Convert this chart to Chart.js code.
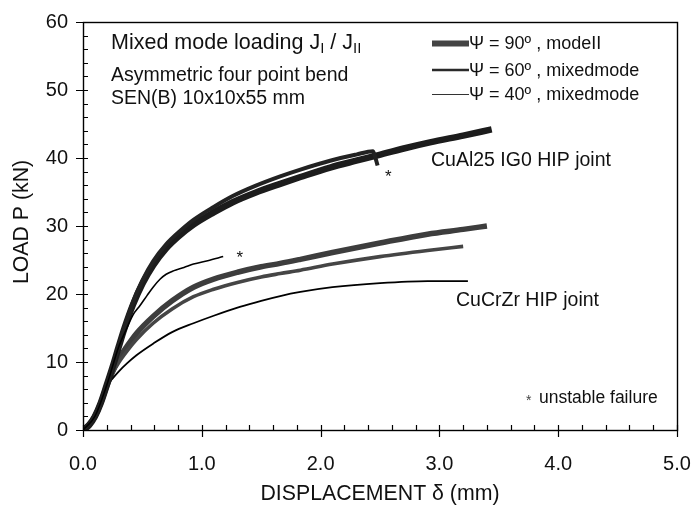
<!DOCTYPE html>
<html>
<head>
<meta charset="utf-8">
<script src="https://cdn.jsdelivr.net/npm/chart.js@4.4.1/dist/chart.umd.min.js"></script>
<style>
    html, body { margin: 0; padding: 0; background: #fff; }
</style>
</head>
<body>
<canvas id="chart" width="695" height="510"></canvas>
<script>
    "use strict";

    // CuAl25 IG0 HIP joint
    const dispAl90 = [0, 0.05, 0.1, 0.15, 0.2, 0.25, 0.3, 0.35, 0.42, 0.5, 0.59, 0.7, 0.8, 0.93, 1.1, 1.26, 1.45, 1.66, 1.83, 2.08, 2.3, 2.46, 2.7, 2.92, 3.2, 3.44];
    const loadAl90 = [0, 0.7, 2.0, 4.0, 6.6, 9.3, 12.2, 15.0, 18.4, 21.5, 24.2, 26.7, 28.4, 30.2, 32.0, 33.5, 34.9, 36.2, 37.2, 38.6, 39.6, 40.3, 41.4, 42.3, 43.3, 44.2];
    const dispAl60 = [0, 0.1, 0.2, 0.3, 0.42, 0.5, 0.59, 0.7, 0.8, 0.93, 1.1, 1.26, 1.45, 1.66, 1.83, 2.08, 2.3, 2.44, 2.46, 2.48];
    const loadAl60 = [0, 2.0, 6.6, 12.3, 18.8, 22.0, 24.8, 27.3, 29.0, 30.9, 32.8, 34.4, 35.9, 37.3, 38.3, 39.6, 40.5, 41.0, 40.1, 38.9];
    const dispAl40 = [0, 0.1, 0.2, 0.3, 0.37, 0.42, 0.48, 0.54, 0.59, 0.65, 0.7, 0.76, 0.85, 0.93, 1.05, 1.18];
    const loadAl40 = [0, 2.0, 6.6, 12.2, 15.0, 16.9, 18.3, 19.8, 21.0, 22.2, 22.9, 23.4, 23.9, 24.4, 24.9, 25.5];

    // CuCrZr HIP joint
    const dispCr90 = [0, 0.05, 0.1, 0.15, 0.2, 0.25, 0.3, 0.37, 0.45, 0.59, 0.75, 0.93, 1.1, 1.3, 1.5, 1.66, 1.83, 2.1, 2.5, 2.9, 3.2, 3.4];
    const loadCr90 = [0, 0.7, 2.0, 4.0, 6.5, 8.6, 10.4, 12.3, 14.2, 16.7, 19.0, 21.0, 22.2, 23.2, 24.0, 24.5, 25.1, 26.1, 27.5, 28.8, 29.5, 30.0];
    const dispCr60 = [0, 0.1, 0.2, 0.25, 0.3, 0.37, 0.45, 0.59, 0.75, 0.93, 1.1, 1.3, 1.5, 1.66, 1.83, 2.1, 2.5, 2.9, 3.2];
    const loadCr60 = [0, 2.0, 6.5, 8.4, 9.9, 11.6, 13.3, 15.7, 17.8, 19.6, 20.7, 21.7, 22.5, 23.0, 23.5, 24.4, 25.5, 26.4, 27.0];
    const dispCr40 = [0, 0.1, 0.2, 0.25, 0.3, 0.37, 0.45, 0.59, 0.75, 0.93, 1.1, 1.32, 1.5, 1.66, 1.83, 2.1, 2.5, 2.9, 3.24];
    const loadCr40 = [0, 2.0, 6.5, 7.6, 8.6, 9.8, 11.0, 12.7, 14.4, 15.7, 16.8, 18.1, 19.0, 19.7, 20.3, 21.0, 21.6, 21.9, 21.9];

    // unstable failure markers (displacement, load)
    const failDisp = [1.32, 2.57];
    const failLoad = [25.8, 37.8];

    const legendLabels = ["\u03A8 = 90\u00BA , modeII", "\u03A8 = 60\u00BA , mixedmode", "\u03A8 = 40\u00BA , mixedmode"];
    const titleLines = ["Asymmetric four point bend", "SEN(B) 10x10x55 mm"];

    const FONT = "'Liberation Sans', Arial, Helvetica, sans-serif";
    const INK = "#111";

    function pts(xs, ys) {
        return xs.map((x, i) => ({ x: x, y: ys[i] }));
    }

    function series(label, xs, ys, color, width) {
        return {
            label: label,
            data: pts(xs, ys),
            borderColor: color,
            borderWidth: width,
            pointRadius: 0,
            fill: false,
            cubicInterpolationMode: "monotone",
            borderCapStyle: "butt",
            borderJoinStyle: "round"
        };
    }

    function axisTicks(ctx, area, xScale, yScale) {
        ctx.save();
        ctx.strokeStyle = "#000";
        ctx.lineWidth = 1.2;
        ctx.beginPath();
        for (let v = 0; v <= 5.0001; v += 0.2) {
            const px = Math.round(xScale.getPixelForValue(v)) + 0.5;
            const major = Math.abs(v - Math.round(v)) < 1e-6;
            ctx.moveTo(px, area.bottom + (major ? 7 : 0));
            ctx.lineTo(px, area.bottom - 5);
        }
        for (let v = 0; v <= 60.001; v += 2) {
            const py = Math.round(yScale.getPixelForValue(v)) + 0.5;
            const major = v % 10 === 0;
            ctx.moveTo(area.left - (major ? 7 : 0), py);
            ctx.lineTo(area.left + 5, py);
        }
        ctx.stroke();
        ctx.restore();
    }

    const decor = {
        id: "decor",
        afterDraw(chart) {
            const ctx = chart.ctx;
            const area = chart.chartArea;
            const xs = chart.scales.x;
            const ys = chart.scales.y;

            // frame
            ctx.save();
            ctx.strokeStyle = "#000";
            ctx.lineWidth = 1.4;
            ctx.strokeRect(Math.round(area.left) + 0.5, Math.round(area.top) + 0.5,
                Math.round(area.right - area.left), Math.round(area.bottom - area.top));
            ctx.restore();
            axisTicks(ctx, area, xs, ys);

            ctx.save();
            ctx.fillStyle = INK;
            ctx.textAlign = "left";
            ctx.textBaseline = "alphabetic";

            // heading with J_I / J_II
            let x = 111;
            const big = "21.5px " + FONT;
            const sub = "15px " + FONT;
            const parts = [["Mixed mode loading J", big, 0], ["I", sub, 4], [" / J", big, 0], ["II", sub, 4]];
            parts.forEach(p => {
                ctx.font = p[1];
                ctx.fillText(p[0], x, 49 + p[2]);
                x += ctx.measureText(p[0]).width;
            });
            ctx.font = "19.5px " + FONT;
            ctx.fillText(titleLines[0], 111, 81);
            ctx.fillText(titleLines[1], 111, 104);

            // legend
            const legY = [43.5, 70, 94.5];
            const legW = [6, 2.6, 1.2];
            const legC = ["#444", "#2a2a2a", "#333"];
            legendLabels.forEach((t, i) => {
                ctx.beginPath();
                ctx.strokeStyle = legC[i];
                ctx.lineWidth = legW[i];
                ctx.moveTo(432, legY[i]);
                ctx.lineTo(469, legY[i]);
                ctx.stroke();
                ctx.font = "18px " + FONT;
                ctx.textBaseline = "middle";
                ctx.fillText(t, 469, legY[i] + 1);
            });

            // group labels
            ctx.font = "19.5px " + FONT;
            ctx.textBaseline = "middle";
            ctx.fillText("CuAl25 IG0 HIP joint", 431, 161);
            ctx.fillText("CuCrZr HIP joint", 456, 301);

            // failure markers
            ctx.textAlign = "center";
            ctx.font = "17px " + FONT;
            failDisp.forEach((d, i) => {
                ctx.fillText("*", xs.getPixelForValue(d), ys.getPixelForValue(failLoad[i]) + 4);
            });
            ctx.textAlign = "left";
            ctx.fillStyle = "#444";
            ctx.font = "14px " + FONT;
            ctx.fillText("*", 526, 401);
            ctx.fillStyle = INK;
            ctx.font = "17.5px " + FONT;
            ctx.fillText("unstable failure", 539, 398);

            // axis titles
            ctx.font = "21.3px " + FONT;
            ctx.textAlign = "center";
            ctx.fillText("DISPLACEMENT \u03B4 (mm)", (area.left + area.right) / 2, 494);
            ctx.translate(22, 222);
            ctx.rotate(-Math.PI / 2);
            ctx.fillText("LOAD P (kN)", 0, 0);
            ctx.restore();
        }
    };

    new Chart(document.getElementById("chart"), {
        type: "line",
        data: {
            datasets: [
                series("CuAl25 40", dispAl40, loadAl40, "#000", 1.6),
                series("CuAl25 60", dispAl60, loadAl60, "#222", 4),
                series("CuAl25 90", dispAl90, loadAl90, "#1c1c1c", 6.5),
                series("CuCrZr 40", dispCr40, loadCr40, "#000", 1.8),
                series("CuCrZr 60", dispCr60, loadCr60, "#454545", 3.6),
                series("CuCrZr 90", dispCr90, loadCr90, "#3d3d3d", 5.5)
            ]
        },
        options: {
            responsive: false,
            animation: false,
            layout: { padding: { left: 0, right: 18, top: 22, bottom: 0 } },
            plugins: { legend: { display: false }, tooltip: { enabled: false } },
            scales: {
                x: {
                    type: "linear",
                    min: 0,
                    max: 5,
                    grid: { display: false, drawTicks: false },
                    border: { display: false },
                    ticks: {
                        stepSize: 1,
                        padding: 22,
                        color: INK,
                        font: { family: FONT, size: 20 },
                        callback: v => v.toFixed(1)
                    },
                    afterFit: s => { s.height = 80; s.paddingLeft = 0; s.paddingRight = 0; }
                },
                y: {
                    min: 0,
                    max: 60,
                    grid: { display: false, drawTicks: false },
                    border: { display: false },
                    ticks: {
                        stepSize: 10,
                        padding: 15,
                        color: INK,
                        font: { family: FONT, size: 20 }
                    },
                    afterFit: s => { s.width = 83; s.paddingTop = 0; s.paddingBottom = 0; }
                }
            }
        },
        plugins: [decor]
    });
</script>
</body>
</html>
